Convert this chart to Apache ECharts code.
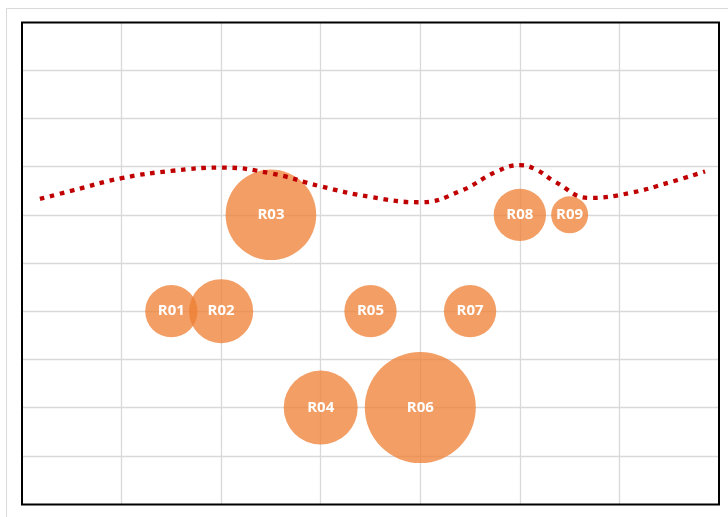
<!DOCTYPE html>
<html>
<head>
<meta charset="utf-8">
<script src="https://cdn.jsdelivr.net/npm/echarts@6/dist/echarts.min.js"></script>
<style>html,body{margin:0;padding:0;background:#fff;}#c{width:728px;height:517px;}</style>
</head>
<body>
<div id="c"></div>
<script>
// Bubble data
const bubbleNames = ['R01','R02','R03','R04','R05','R06','R07','R08','R09'];
const bubbleX = [1.5, 2, 2.5, 3, 3.5, 4, 4.5, 5, 5.5];
const bubbleY = [4, 4, 6, 2, 4, 2, 4, 6, 6];
const bubbleSize = [2, 3, 6, 4, 2, 9, 2, 2, 1];

// Smoothed line data
const lineX = [0.18, 0.5, 1.0, 1.5, 2.0, 2.5, 3.0, 3.5, 4.0, 4.4, 4.77, 5.0, 5.17, 5.35, 5.7, 6.1, 6.5, 6.86];
const lineY = [6.33, 6.5, 6.76, 6.91, 6.98, 6.86, 6.59, 6.37, 6.26, 6.49, 6.90, 7.03, 6.93, 6.69, 6.35, 6.45, 6.67, 6.90];

const maxSize = Math.max(...bubbleSize);
const MAX_DIAM = 111;

const chart = echarts.init(document.getElementById('c'), null, {renderer: 'canvas'});
chart.setOption({
  animation: false,
  backgroundColor: '#fff',
  graphic: [{
    type: 'rect',
    shape: {x: 6.5, y: 8.5, width: 760, height: 560},
    style: {fill: 'none', stroke: '#d9d9d9', lineWidth: 1},
    z: -10
  }, {
    type: 'rect',
    shape: {x: 22, y: 22.5, width: 697, height: 482},
    style: {fill: 'none', stroke: '#000', lineWidth: 2},
    z: 1
  }],
  grid: {
    left: 22, top: 22, right: 9, bottom: 13
  },
  xAxis: {
    type: 'value', min: 0, max: 7, interval: 1,
    axisLine: {show: false}, axisTick: {show: false}, axisLabel: {show: false},
    splitLine: {show: true, showMinLine: false, showMaxLine: false, lineStyle: {color: '#d9d9d9', width: 1.3}}
  },
  yAxis: {
    type: 'value', min: 0, max: 10, interval: 1,
    axisLine: {show: false}, axisTick: {show: false}, axisLabel: {show: false},
    splitLine: {show: true, showMinLine: false, showMaxLine: false, lineStyle: {color: '#d9d9d9', width: 1.3}}
  },
  series: [
    {
      type: 'scatter',
      data: bubbleNames.map((n, i) => ({name: n, value: [bubbleX[i], bubbleY[i], bubbleSize[i]]})),
      symbolSize: v => Math.sqrt(v[2] / maxSize) * MAX_DIAM,
      itemStyle: {color: 'rgba(237,125,49,0.75)', opacity: 1},
      label: {
        show: true, position: 'inside', formatter: p => p.name,
        color: '#fff', fontFamily: 'Open Sans', fontWeight: 'bold', fontSize: 15
      },
      emphasis: {disabled: true},
      z: 2
    },
    {
      type: 'line',
      data: lineX.map((x, i) => [x, lineY[i]]),
      smooth: 0.45,
      showSymbol: false,
      symbol: 'none',
      lineStyle: {color: '#C00000', width: 4.3, type: [4.6, 5.7], cap: 'butt'},
      z: 3
    }
  ]
});
</script>
</body>
</html>
